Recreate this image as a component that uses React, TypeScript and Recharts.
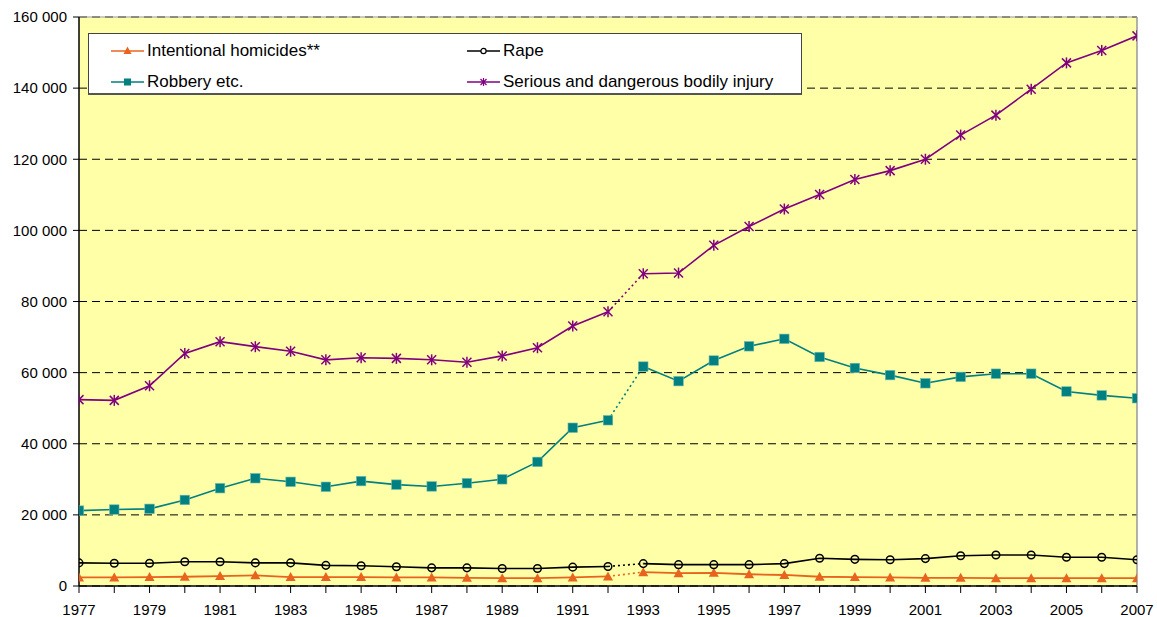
import React from 'react';
import { LineChart, Line, XAxis, YAxis, CartesianGrid, Legend, ReferenceLine } from 'recharts';

const years = [1977, 1978, 1979, 1980, 1981, 1982, 1983, 1984, 1985, 1986, 1987, 1988, 1989, 1990, 1991, 1992, 1993, 1994, 1995, 1996, 1997, 1998, 1999, 2000, 2001, 2002, 2003, 2004, 2005, 2006, 2007];
const homicides = [2400, 2400, 2500, 2600, 2800, 3000, 2500, 2500, 2500, 2400, 2400, 2300, 2200, 2200, 2400, 2700, 3900, 3600, 3700, 3300, 3100, 2600, 2500, 2400, 2300, 2300, 2200, 2200, 2200, 2200, 2200];
const rape = [6500, 6400, 6400, 6800, 6800, 6500, 6500, 5800, 5700, 5400, 5100, 5100, 4900, 4900, 5300, 5500, 6300, 6000, 6000, 6000, 6300, 7800, 7500, 7400, 7700, 8500, 8700, 8700, 8100, 8100, 7400];
const robbery = [21200, 21500, 21700, 24200, 27500, 30300, 29300, 27900, 29500, 28500, 28000, 28900, 30000, 34900, 44500, 46600, 61700, 57600, 63400, 67400, 69500, 64400, 61300, 59300, 57000, 58800, 59700, 59700, 54700, 53600, 52800];
const injury = [52400, 52200, 56300, 65400, 68700, 67300, 66000, 63600, 64200, 64000, 63600, 62900, 64700, 67000, 73100, 77100, 87800, 88000, 95800, 101100, 106000, 110100, 114300, 116800, 120000, 126800, 132400, 139700, 147100, 150600, 154700];
const yTicks = [0, 20000, 40000, 60000, 80000, 100000, 120000, 140000, 160000];
const seriesNames = ['Intentional homicides**', 'Rape', 'Robbery etc.', 'Serious and dangerous bodily injury'];
const BREAK_YEAR = 1993;

const C_HOM = '#E8641E';
const C_RAPE = '#000000';
const C_ROB = '#008080';
const C_INJ = '#800080';

const series = [
  { key: 'hom', values: homicides },
  { key: 'rape', values: rape },
  { key: 'rob', values: robbery },
  { key: 'inj', values: injury },
];

const data = years.map((y, i) => {
  const row: any = { year: y };
  series.forEach((s) => {
    row[s.key + 'A'] = y < BREAK_YEAR ? s.values[i] : null;
    row[s.key + 'B'] = y >= BREAK_YEAR ? s.values[i] : null;
    row[s.key + 'D'] = y === BREAK_YEAR - 1 || y === BREAK_YEAR ? s.values[i] : null;
  });
  return row;
});

const FONT = '"Liberation Sans", Arial, sans-serif';

const triDot = (props: any) => {
  const { cx, cy, index } = props;
  if (cx == null || cy == null) return <g key={'t' + index} />;
  return <path key={'t' + index} d={`M${cx},${cy - 5} L${cx + 5},${cy + 4} L${cx - 5},${cy + 4} Z`} fill={C_HOM} />;
};
const circDot = (props: any) => {
  const { cx, cy, index } = props;
  if (cx == null || cy == null) return <g key={'c' + index} />;
  return <circle key={'c' + index} cx={cx} cy={cy} r={3.8} fill="none" stroke={C_RAPE} strokeWidth={1.5} />;
};
const sqDot = (props: any) => {
  const { cx, cy, index } = props;
  if (cx == null || cy == null) return <g key={'s' + index} />;
  return <rect key={'s' + index} x={cx - 4.75} y={cy - 4.75} width={9.5} height={9.5} fill={C_ROB} stroke="#6fb8b0" strokeWidth={0.6} />;
};
const astDot = (props: any) => {
  const { cx, cy, index } = props;
  if (cx == null || cy == null) return <g key={'a' + index} />;
  return (
    <g key={'a' + index} stroke={C_INJ} strokeWidth={1.5}>
      <line x1={cx - 4.5} y1={cy - 4.5} x2={cx + 4.5} y2={cy + 4.5} />
      <line x1={cx - 4.5} y1={cy + 4.5} x2={cx + 4.5} y2={cy - 4.5} />
      <line x1={cx} y1={cy - 5.5} x2={cx} y2={cy + 5.5} />
    </g>
  );
};

const fmt = (v: number) => String(v).replace(/\B(?=(\d{3})+(?!\d))/g, ' ');

const XTick = (props: any) => {
  const { x, y, payload } = props;
  if (payload.value % 2 !== 1) return <g />;
  return (
    <text x={x} y={y} dy="0.71em" textAnchor="middle" fontSize={15} fontFamily={FONT} fill="#000">
      {payload.value}
    </text>
  );
};

const LegendMarker = ({ kind, color }: { kind: string; color: string }) => (
  <svg width={36} height={14} style={{ position: 'absolute', left: 0, top: -7 }}>
    <line x1={1} y1={7} x2={34} y2={7} stroke={color} strokeWidth={1.6} />
    {kind === 'tri' && <path d="M17.5,2.5 L21.5,10 L13.5,10 Z" fill={color} />}
    {kind === 'circ' && <circle cx={17.5} cy={7} r={2.6} fill="#fff" stroke={color} strokeWidth={1.2} />}
    {kind === 'sq' && <rect x={14} y={3.5} width={7} height={7} fill={color} />}
    {kind === 'ast' && (
      <g stroke={color} strokeWidth={1.2}>
        <line x1={14.5} y1={4} x2={20.5} y2={10} />
        <line x1={14.5} y1={10} x2={20.5} y2={4} />
        <line x1={17.5} y1={3} x2={17.5} y2={11} />
      </g>
    )}
  </svg>
);

const legendItems = [
  { name: seriesNames[0], kind: 'tri', color: C_HOM, left: 21, top: 17 },
  { name: seriesNames[1], kind: 'circ', color: C_RAPE, left: 377, top: 17 },
  { name: seriesNames[2], kind: 'sq', color: C_ROB, left: 21, top: 48 },
  { name: seriesNames[3], kind: 'ast', color: C_INJ, left: 377, top: 48 },
];

const LegendBox = () => (
  <div
    style={{
      position: 'relative',
      width: 714,
      height: 62,
      background: '#fff',
      border: '1px solid #444',
      borderBottom: '2px solid #555',
      boxSizing: 'border-box',
      fontFamily: FONT,
      fontSize: 17,
      color: '#000',
    }}
  >
    {legendItems.map((it) => (
      <div key={it.name} style={{ position: 'absolute', left: it.left, top: it.top, height: 0 }}>
        <LegendMarker kind={it.kind} color={it.color} />
        <span style={{ position: 'absolute', left: 37, top: -10, whiteSpace: 'nowrap', lineHeight: '19px' }}>{it.name}</span>
      </div>
    ))}
  </div>
);

export default function App() {
  const lines: any[] = [];
  const cfg = [
    { key: 'hom', color: C_HOM, dot: triDot, w: 1.8 },
    { key: 'rape', color: C_RAPE, dot: circDot, w: 1.6 },
    { key: 'rob', color: C_ROB, dot: sqDot, w: 1.6 },
    { key: 'inj', color: C_INJ, dot: astDot, w: 1.6 },
  ];
  cfg.forEach((c) => {
    lines.push(
      <Line key={c.key + 'D'} dataKey={c.key + 'D'} stroke={c.color} strokeWidth={1.6} strokeDasharray="2 3" dot={false} activeDot={false} isAnimationActive={false} connectNulls={false} legendType="none" />
    );
  });
  cfg.forEach((c) => {
    ['A', 'B'].forEach((seg) => {
      lines.push(
        <Line key={c.key + seg} dataKey={c.key + seg} stroke={c.color} strokeWidth={c.w} dot={c.dot} activeDot={false} isAnimationActive={false} connectNulls={false} legendType="none" />
      );
    });
  });

  return (
    <div style={{ width: 1157, height: 617, padding: '8px 0 0 8px', boxSizing: 'border-box', background: '#fff' }}>
      <style>{'html,body{margin:0;overflow:hidden} .recharts-surface{overflow:visible}'}</style>
      <LineChart width={1149} height={609} data={data} margin={{ top: 9, right: 20, bottom: 0, left: 0 }} style={{ overflow: 'visible' }}>
        <CartesianGrid horizontal vertical={false} stroke="#000" strokeDasharray="8 5" fill="#FFFFA8" fillOpacity={1} />
        <XAxis
          dataKey="year"
          type="number"
          domain={[1977, 2007]}
          ticks={years}
          interval={0}
          height={31}
          tickSize={7}
          tickMargin={11}
          tick={<XTick />}
          axisLine={{ stroke: '#000', strokeWidth: 1.5 }}
          tickLine={{ stroke: '#000' }}
          allowDataOverflow
        />
        <YAxis
          domain={[0, 160000]}
          ticks={yTicks}
          interval={0}
          width={71}
          tickSize={6}
          tickMargin={6}
          tickFormatter={fmt}
          tick={{ fontSize: 15, fontFamily: FONT, fill: '#000' }}
          axisLine={{ stroke: '#000', strokeWidth: 1.5 }}
          tickLine={{ stroke: '#000' }}
        />
        <ReferenceLine y={160000} stroke="#999" strokeWidth={1} />
        <ReferenceLine x={2007} stroke="#999" strokeWidth={1.5} />
        {lines}
        <Legend
          layout="vertical"
          align="center"
          verticalAlign="middle"
          content={() => <LegendBox />}
          wrapperStyle={{ left: 80, top: 24.5, width: 714, height: 62 }}
        />
      </LineChart>
    </div>
  );
}
